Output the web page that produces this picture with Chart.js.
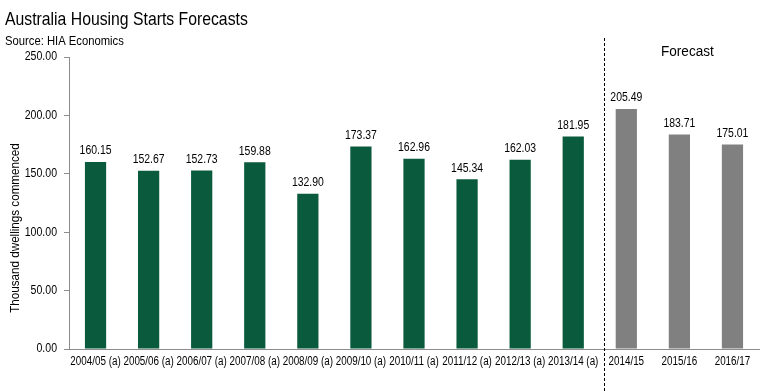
<!DOCTYPE html>
<html><head><meta charset="utf-8">
<script src="https://cdn.jsdelivr.net/npm/chart.js@4/dist/chart.umd.min.js"></script>
<style>html,body{margin:0;padding:0;background:#fff}#wrap{width:771px;height:391px;position:relative}</style>
</head><body><div id="wrap"><canvas id="c" width="771" height="391"></canvas></div>
<script>
const categories = ["2004/05 (a)","2005/06 (a)","2006/07 (a)","2007/08 (a)","2008/09 (a)","2009/10 (a)","2010/11 (a)","2011/12 (a)","2012/13 (a)","2013/14 (a)","2014/15","2015/16","2016/17"];
const starts = [160.15,152.67,152.73,159.88,132.90,173.37,162.96,145.34,162.03,181.95,205.49,183.71,175.01];
const isForecast = [false,false,false,false,false,false,false,false,false,false,true,true,true];
const yTicks = [0,50,100,150,200,250];
const titleText = "Australia Housing Starts Forecasts";
const sourceText = "Source: HIA Economics";
const yTitle = "Thousand dwellings commenced";
const forecastLabel = "Forecast";

const FONT = "'Liberation Sans',Arial,sans-serif";
const GREEN = "#0A5A3D", GREY = "#808080";

function txt(ctx, s, x, y, size, sx, align, baseline) {
  ctx.save();
  ctx.translate(x, y);
  ctx.scale(sx, 1);
  ctx.font = size + "px " + FONT;
  ctx.textAlign = align; ctx.textBaseline = baseline;
  ctx.fillStyle = "#000";
  ctx.fillText(s, 0, 0);
  ctx.restore();
}

const extras = {
  id: 'extras',
  afterDatasetsDraw(chart) {
    const ctx = chart.ctx, x = chart.scales.x, y = chart.scales.y;
    // title & source
    txt(ctx, titleText, 5, 25, 19, 0.83, "left", "alphabetic");
    txt(ctx, sourceText, 5, 45, 12.5, 0.9, "left", "alphabetic");
    // y tick labels
    yTicks.forEach(v => txt(ctx, v.toFixed(2), 57, y.getPixelForValue(v), 12, 0.88, "right", "middle"));
    // x tick labels
    categories.forEach((c, i) => txt(ctx, c, x.getPixelForValue(i), 362, 12, 0.82, "center", "middle"));
    // data labels
    const meta = chart.getDatasetMeta(0);
    meta.data.forEach((bar, i) => txt(ctx, starts[i].toFixed(2), bar.x, bar.y - 5, 12, 0.87, "center", "bottom"));
    // y title
    ctx.save();
    ctx.translate(16, 228); ctx.rotate(-Math.PI/2);
    txt(ctx, yTitle, 0, 0, 12, 0.97, "center", "middle");
    ctx.restore();
    // forecast divider
    const firstF = isForecast.indexOf(true);
    const xd = Math.round((x.getPixelForValue(firstF - 1) + x.getPixelForValue(firstF)) / 2) + 4.5;
    ctx.save();
    ctx.strokeStyle = "#000"; ctx.lineWidth = 1; ctx.setLineDash([3, 2]);
    ctx.beginPath(); ctx.moveTo(xd, 38); ctx.lineTo(xd, 391); ctx.stroke();
    ctx.restore();
    // forecast label
    const lastF = isForecast.length - 1;
    const xf = (x.getPixelForValue(firstF) + x.getPixelForValue(lastF)) / 2 + 8;
    txt(ctx, forecastLabel, xf, 52, 14, 0.97, "center", "middle");
  }
};

new Chart(document.getElementById('c'), {
  type: 'bar',
  data: {
    labels: categories,
    datasets: [{
      data: starts,
      backgroundColor: isForecast.map(f => f ? GREY : GREEN),
      borderWidth: 0,
      categoryPercentage: 1,
      barPercentage: 0.4
    }]
  },
  options: {
    responsive: false,
    animation: false,
    devicePixelRatio: 1,
    layout: { padding: { top: 57, right: 12, left: 0, bottom: 0 } },
    plugins: { legend: { display: false }, tooltip: { enabled: false }, title: { display: false } },
    scales: {
      x: {
        grid: { display: false },
        border: { display: true, color: "#8c8c8c", width: 1 },
        ticks: { color: "rgba(0,0,0,0)", font: { family: FONT, size: 10 }, maxRotation: 0, autoSkip: false, padding: 4 },
        afterFit(s) { s.height = 42; }
      },
      y: {
        min: 0, max: 250,
        afterBuildTicks(s) { s.ticks = yTicks.map(v => ({ value: v })); },
        grid: { drawOnChartArea: false, drawTicks: true, tickLength: 5, color: "#8c8c8c" },
        border: { display: true, color: "#8c8c8c", width: 1 },
        ticks: { color: "rgba(0,0,0,0)", font: { family: FONT, size: 12 }, padding: 3, callback: v => Number(v).toFixed(2) },
        afterFit(s) { s.width = 69; }
      }
    }
  },
  plugins: [extras]
});
</script>
</body></html>
